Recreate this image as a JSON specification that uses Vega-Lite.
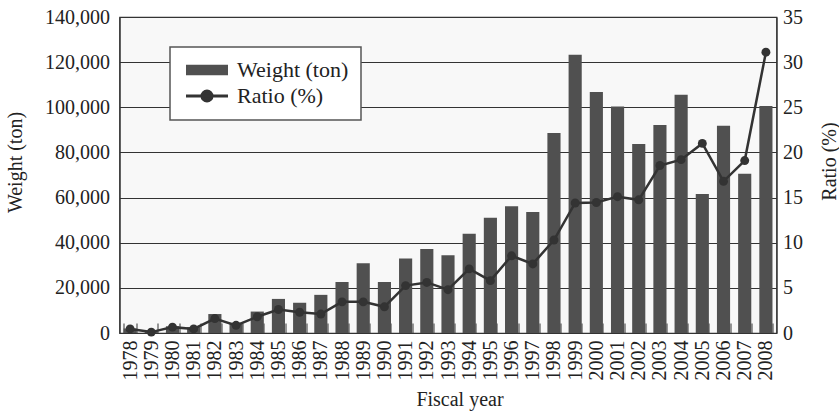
{
  "$schema": "https://vega.github.io/schema/vega-lite/v6.json",
  "autosize": {"type": "none"},
  "width": 657,
  "height": 316,
  "padding": {"left": 119.5, "top": 17, "right": 62.5, "bottom": 83},
  "background": "white",
  "config": {
    "font": "Liberation Serif",
    "view": {"stroke": "#333", "strokeWidth": 1.2, "fill": "#f8f8f8"},
    "axis": {"labelFont": "Liberation Serif", "titleFont": "Liberation Serif", "labelFontSize": 20, "titleFontSize": 20, "titleFontWeight": "normal", "labelColor": "#222", "titleColor": "#222", "domainColor": "#333", "tickColor": "#333"},
    "legend": {"labelFont": "Liberation Serif", "labelFontSize": 22, "labelColor": "#222"}
  },
  "data": {"values": [
    {"year": "1978", "weight": 2000, "ratio": 0.45},
    {"year": "1979", "weight": 800, "ratio": 0.1},
    {"year": "1980", "weight": 3000, "ratio": 0.65},
    {"year": "1981", "weight": 2600, "ratio": 0.45},
    {"year": "1982", "weight": 8400, "ratio": 1.6},
    {"year": "1983", "weight": 4500, "ratio": 0.85},
    {"year": "1984", "weight": 9500, "ratio": 1.8},
    {"year": "1985", "weight": 15100, "ratio": 2.6},
    {"year": "1986", "weight": 13400, "ratio": 2.3},
    {"year": "1987", "weight": 16900, "ratio": 2.1},
    {"year": "1988", "weight": 22600, "ratio": 3.45},
    {"year": "1989", "weight": 30900, "ratio": 3.45},
    {"year": "1990", "weight": 22600, "ratio": 2.9},
    {"year": "1991", "weight": 33000, "ratio": 5.25},
    {"year": "1992", "weight": 37200, "ratio": 5.6},
    {"year": "1993", "weight": 34400, "ratio": 4.8},
    {"year": "1994", "weight": 44000, "ratio": 7.1},
    {"year": "1995", "weight": 51100, "ratio": 5.8},
    {"year": "1996", "weight": 56100, "ratio": 8.55},
    {"year": "1997", "weight": 53600, "ratio": 7.65},
    {"year": "1998", "weight": 88600, "ratio": 10.3},
    {"year": "1999", "weight": 123300, "ratio": 14.4},
    {"year": "2000", "weight": 106800, "ratio": 14.45},
    {"year": "2001", "weight": 100300, "ratio": 15.1},
    {"year": "2002", "weight": 83700, "ratio": 14.75},
    {"year": "2003", "weight": 92200, "ratio": 18.55},
    {"year": "2004", "weight": 105600, "ratio": 19.2},
    {"year": "2005", "weight": 61600, "ratio": 21.0},
    {"year": "2006", "weight": 91800, "ratio": 16.8},
    {"year": "2007", "weight": 70600, "ratio": 19.1},
    {"year": "2008", "weight": 100600, "ratio": 31.1}
  ]},
  "encoding": {
    "x": {
      "field": "year", "type": "ordinal",
      "scale": {"paddingInner": 0.38, "paddingOuter": 0.19},
      "axis": {
        "title": "Fiscal year", "labelAngle": -90, "tickBand": "extent", "tickSize": -10,
        "labelPadding": 17, "titleX": 340, "titleY": 72, "titleBaseline": "alphabetic",
        "domainWidth": 1.2, "tickWidth": 1
      }
    }
  },
  "layer": [
    {
      "mark": {"type": "bar"},
      "encoding": {
        "y": {
          "field": "weight", "type": "quantitative",
          "scale": {"domain": [0, 140000], "nice": false},
          "axis": {
            "title": "Weight (ton)", "orient": "left", "format": ",.0f",
            "values": [0, 20000, 40000, 60000, 80000, 100000, 120000, 140000],
            "ticks": false, "labelPadding": 10, "grid": true, "gridColor": "#333", "gridWidth": 1,
            "domainWidth": 1.2,
            "titleAngle": -90, "titleX": -98.5, "titleY": 145, "titleBaseline": "alphabetic", "titleAlign": "center"
          }
        },
        "color": {
          "datum": "Weight (ton)",
          "scale": {"domain": ["Weight (ton)", "Ratio (%)"], "range": ["#505050", "#333333"]},
          "legend": {
            "title": null, "orient": "none", "legendX": 50.5, "legendY": 30,
            "fillColor": "white", "strokeColor": "#555", "padding": 12,
            "symbolSize": 225, "symbolOffset": 14, "labelOffset": 19, "rowPadding": 3,
            "encode": {
              "legend": {"update": {"strokeWidth": {"value": 1.5}}},
              "symbols": {
                "update": {
                  "shape": {"signal": "datum.value === 'Weight (ton)' ? 'M-2.6,-0.5H2.6V0.5H-2.6Z' : 'M-2.8,0H2.8M0.67,0A0.67,0.67 0 1,1 -0.67,0A0.67,0.67 0 1,1 0.67,0Z'"},
                  "fill": {"signal": "datum.value === 'Weight (ton)' ? '#2a2a2a' : '#333333'"},
                  "stroke": {"signal": "datum.value === 'Weight (ton)' ? 'transparent' : '#333333'"},
                  "strokeWidth": {"value": 3},
                  "opacity": {"value": 1},
                  "fillOpacity": {"value": 1}
                }
              }
            }
          }
        }
      }
    },
    {
      "mark": {"type": "line", "strokeWidth": 2.5, "point": {"filled": true, "size": 80}},
      "encoding": {
        "y": {
          "field": "ratio", "type": "quantitative",
          "scale": {"domain": [0, 35], "nice": false},
          "axis": {
            "title": "Ratio (%)", "orient": "right",
            "values": [0, 5, 10, 15, 20, 25, 30, 35],
            "ticks": false, "labelPadding": 6, "grid": false, "domainWidth": 1.2,
            "titleAngle": -90, "titleX": 59, "titleY": 144, "titleBaseline": "alphabetic", "titleAlign": "center"
          }
        },
        "color": {"datum": "Ratio (%)"}
      }
    }
  ],
  "resolve": {"scale": {"y": "independent"}, "axis": {"y": "independent"}}
}
